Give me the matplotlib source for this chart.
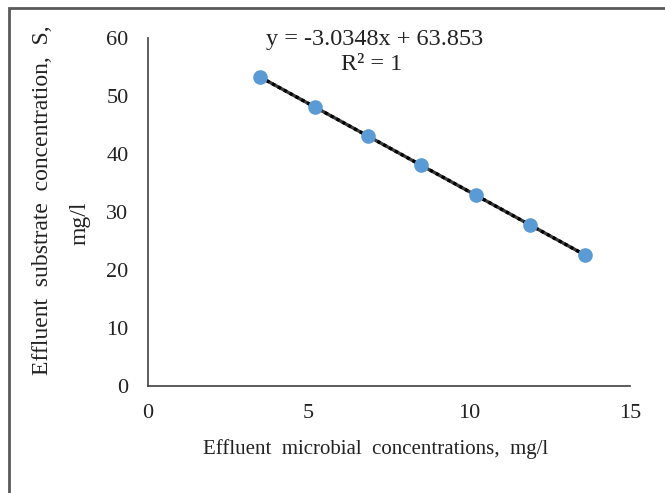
import numpy as np
import matplotlib.pyplot as plt
from matplotlib.patches import Rectangle

# data
x_microbial = [3.5, 5.2, 6.85, 8.5, 10.2, 11.9, 13.6]
slope = -3.0348
intercept = 63.853
y_substrate = [53.2, 48.1, 43.1, 38.1, 32.9, 27.7, 22.6]

x_ticks = [0, 5, 10, 15]
y_ticks = [0, 10, 20, 30, 40, 50, 60]

plt.rcParams['font.family'] = ['Liberation Serif', 'DejaVu Serif']
plt.rcParams['text.color'] = '#222222'
plt.rcParams['xtick.color'] = '#222222'
plt.rcParams['ytick.color'] = '#222222'

fig = plt.figure(figsize=(6.65, 4.93), dpi=100)
ax = fig.add_axes([148 / 665, 0.217, (630 - 148) / 665, 0.923 - 0.217])

# trendline (Excel style dotted over dark line)
xs = np.array([x_microbial[0], x_microbial[-1]])
ax.plot(xs, slope * xs + intercept, color='#3a3a3a', lw=2.4, zorder=2)
ax.plot(xs, slope * xs + intercept, color='black', lw=2.4,
        linestyle=(0, (1, 1)), zorder=3)
ax.plot(x_microbial, y_substrate, 'o', color='#5B9BD5', ms=9.5, zorder=4)

ax.set_xlim(0, 15)
ax.set_ylim(0, 60)
ax.set_xticks(x_ticks)
ax.set_yticks(y_ticks)
ax.tick_params(axis='y', length=0, labelsize=16, pad=14)
ax.tick_params(axis='x', length=0, labelsize=16, pad=13)
for s in ['top', 'right']:
    ax.spines[s].set_visible(False)
for s in ['left', 'bottom']:
    ax.spines[s].set_color('#404040')
    ax.spines[s].set_linewidth(1.2)

# axis titles placed as in the original
fig.text(376 / 665, 1 - 449 / 493, 'Effluent  microbial  concentrations,  mg/l',
         fontsize=15, ha='center', va='center')
fig.text(0.064, 0.594, 'Effluent  substrate  concentration,  S,', rotation=90,
         fontsize=17, ha='center', va='center')
fig.text(0.120, 0.548, 'mg/l', rotation=90, fontsize=17, ha='center', va='center')

fig.text(375 / 665, 1 - 40 / 493, 'y = -3.0348x + 63.853',
         fontsize=17.5, ha='center', va='center')
fig.text(372 / 665, 1 - 64 / 493, 'R² = 1',
         fontsize=17.5, ha='center', va='center')

# border of the original figure frame
fig.patches.append(Rectangle((9 / 665, -0.1), 1.2, 1 - 8 / 493 + 0.1,
                             transform=fig.transFigure, fill=False,
                             edgecolor='#5a5a5a', lw=2))

fig.savefig('out.png', dpi=100)
